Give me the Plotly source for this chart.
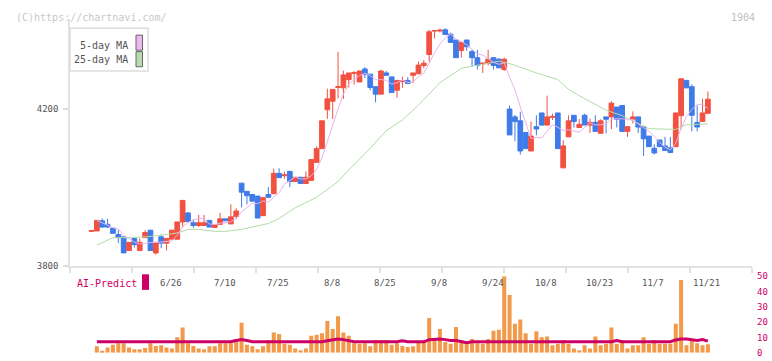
import plotly.graph_objects as go
import pandas as pd

# ---------------- data ----------------
opens = [3888, 3889, 3915, 3906, 3896, 3880, 3874, 3839, 3870, 3839,
         3872, 3891, 3833, 3874, 3858, 3868, 3868, 3912, 3935, 3910,
         3903, 3903, 3916, 3898, 3906, 3920, 3907, 3926, 4011, 3990,
         3982, 3978, 3928, 3982, 3984, 4036, 4030, 4041, 4015, 4026,
         4010, 4018, 4064, 4099, 4198, 4220, 4255, 4254, 4275, 4291,
         4269, 4302, 4289, 4257, 4238, 4292, 4282, 4248, 4270, 4273,
         4286, 4290, 4311, 4339, 4399, 4399, 4402, 4391, 4376, 4349,
         4376, 4347, 4331, 4315, 4316, 4331, 4327, 4301, 4200, 4180,
         4170, 4140, 4093, 4155, 4190, 4159, 4179, 4190, 4050, 4129,
         4184, 4153, 4184, 4159, 4166, 4138, 4180, 4180, 4205, 4209,
         4143, 4174, 4180, 4155, 4131, 4100, 4121, 4106, 4101, 4104,
         4183, 4273, 4257, 4166, 4168, 4189]
highs = [3890, 3917, 3921, 3920, 3896, 3891, 3874, 3860, 3870, 3870,
         3891, 3891, 3860, 3880, 3870, 3891, 3912, 3967, 3937, 3918,
         3930, 3930, 3916, 3905, 3935, 3920, 3957, 3947, 4011, 3990,
         3982, 3978, 3974, 4001, 4048, 4049, 4040, 4041, 4026, 4026,
         4041, 4071, 4105, 4170, 4252, 4250, 4346, 4298, 4292, 4297,
         4297, 4307, 4289, 4257, 4300, 4297, 4282, 4273, 4283, 4281,
         4292, 4321, 4325, 4402, 4401, 4405, 4406, 4395, 4376, 4370,
         4376, 4351, 4351, 4318, 4351, 4331, 4330, 4331, 4209, 4185,
         4193, 4140, 4168, 4184, 4190, 4234, 4188, 4190, 4121, 4184,
         4184, 4174, 4188, 4176, 4184, 4174, 4180, 4220, 4205, 4209,
         4155, 4194, 4180, 4155, 4131, 4110, 4121, 4129, 4129, 4190,
         4277, 4273, 4263, 4209, 4226, 4245]
lows = [3888, 3889, 3897, 3897, 3883, 3858, 3833, 3839, 3847, 3839,
        3872, 3838, 3829, 3845, 3839, 3868, 3868, 3899, 3913, 3897,
        3899, 3903, 3899, 3897, 3906, 3915, 3907, 3920, 3949, 3957,
        3965, 3922, 3928, 3974, 3984, 4025, 4022, 4001, 4015, 4010,
        4010, 4018, 4064, 4099, 4175, 4175, 4227, 4226, 4255, 4262,
        4269, 4279, 4248, 4217, 4238, 4286, 4242, 4229, 4254, 4265,
        4267, 4290, 4304, 4321, 4380, 4395, 4390, 4370, 4331, 4331,
        4349, 4308, 4301, 4292, 4311, 4301, 4305, 4297, 4134, 4118,
        4084, 4099, 4093, 4133, 4159, 4159, 4172, 4099, 4050, 4129,
        4153, 4153, 4159, 4139, 4143, 4138, 4138, 4149, 4153, 4143,
        4129, 4163, 4139, 4080, 4104, 4084, 4104, 4094, 4089, 4104,
        4149, 4254, 4143, 4143, 4168, 4189]
closes = [3890, 3916, 3899, 3899, 3883, 3872, 3833, 3860, 3854, 3860,
          3885, 3839, 3860, 3858, 3870, 3891, 3912, 3967, 3913, 3903,
          3910, 3910, 3899, 3905, 3920, 3915, 3925, 3940, 3988, 3979,
          3965, 3922, 3974, 3975, 4036, 4025, 4032, 4015, 4026, 4010,
          4026, 4071, 4099, 4170, 4226, 4250, 4257, 4287, 4292, 4293,
          4297, 4289, 4255, 4238, 4297, 4286, 4242, 4273, 4272, 4265,
          4292, 4312, 4317, 4397, 4400, 4401, 4390, 4370, 4331, 4370,
          4359, 4331, 4311, 4317, 4327, 4311, 4305, 4327, 4134, 4168,
          4093, 4099, 4131, 4149, 4159, 4180, 4181, 4099, 4106, 4170,
          4168, 4161, 4159, 4166, 4143, 4170, 4174, 4215, 4174, 4143,
          4155, 4180, 4154, 4124, 4104, 4088, 4104, 4094, 4089, 4190,
          4277, 4254, 4184, 4154, 4190, 4225]
candle_idx = list(range(len(closes)))

# volume panel (starts at candle 1)
vol_idx = list(range(1, 116))
volumes = [4.3, 1.3, 3.4, 5.3, 6.3, 6.3, 3.4, 2.3, 2.3, 3.2,
           6.3, 4.4, 4.9, 3.4, 2.8, 10.2, 16.5, 6.3, 4.4, 2.8,
           2.3, 4.2, 4.2, 6.3, 6.3, 6.3, 9.0, 19.7, 5.3, 4.2,
           2.3, 4.2, 8.4, 13.3, 12.3, 5.9, 5.3, 2.8, 1.7, 2.8,
           11.2, 11.8, 12.7, 20.7, 15.5, 23.9, 13.3, 11.2, 6.3, 5.9,
           6.3, 4.2, 8.4, 8.4, 8.4, 5.3, 6.3, 4.5, 3.8, 4.2,
           7.0, 8.0, 22.8, 9.0, 15.5, 7.0, 5.9, 16.9, 8.0, 5.9,
           9.0, 6.3, 5.9, 9.0, 14.4, 15.1, 50.0, 37.7, 19.0, 21.8,
           12.7, 5.9, 14.0, 10.2, 10.6, 4.9, 5.9, 8.4, 5.9, 2.8,
           1.7, 4.9, 2.8, 10.6, 4.9, 5.9, 16.5, 5.9, 8.4, 2.8,
           4.9, 4.9, 10.2, 5.9, 8.4, 5.9, 5.9, 5.9, 19.0, 47.6,
           4.9, 9.0, 6.3, 4.9, 5.5]
ai_predict = [7.2, 7.2, 7.2, 7.2, 7.2, 7.2, 7.2, 7.2, 7.2, 7.2,
              7.2, 7.2, 7.2, 7.2, 7.2, 7.2, 7.2, 7.2, 7.2, 7.2,
              7.2, 7.2, 7.2, 7.2, 7.2, 7.2, 8.0, 8.6, 8.0, 7.2,
              7.2, 7.2, 7.2, 7.2, 7.2, 7.2, 7.2, 7.2, 7.2, 7.2,
              7.2, 7.2, 7.2, 7.8, 8.2, 9.0, 8.6, 8.0, 7.2, 7.2,
              7.2, 7.2, 7.2, 7.2, 7.2, 7.2, 7.2, 7.8, 7.2, 7.2,
              7.2, 7.2, 8.6, 9.0, 9.0, 8.6, 8.0, 8.0, 7.4, 6.6,
              7.2, 7.2, 7.2, 7.2, 7.2, 7.2, 7.2, 7.2, 7.2, 7.2,
              7.2, 7.2, 7.2, 7.2, 7.2, 7.2, 7.2, 7.2, 7.2, 7.2,
              7.2, 7.2, 7.2, 7.2, 7.2, 7.2, 7.2, 8.0, 7.2, 7.2,
              7.2, 7.2, 7.2, 7.2, 7.2, 7.2, 7.2, 7.2, 8.4, 9.0,
              9.0, 8.4, 8.0, 8.6, 7.6]

# moving averages
ma5_head = [None, 3916, 3910, 3904]          # first values
ma25_idx = [1, 4, 7, 10, 13, 16, 18, 20, 23, 25, 28, 30, 33, 35, 38, 42, 46, 48,
            52, 55, 58, 61, 65, 69, 72, 76, 78, 83, 87, 89, 91, 94, 96, 99, 102,
            104, 109, 111, 115]
ma25_vals = [3853, 3872, 3872, 3874, 3878, 3884, 3893, 3893, 3888, 3888, 3893,
             3899, 3908, 3921, 3948, 3975, 4015, 4045, 4100, 4145, 4172, 4210,
             4267, 4304, 4312, 4322, 4316, 4292, 4275, 4250, 4234, 4213, 4197,
             4183, 4163, 4150, 4148, 4160, 4162]

date_labels = ["6/26", "7/10", "7/25", "8/8", "8/25", "9/8", "9/24",
               "10/8", "10/23", "11/7", "11/21"]
date_label_idx = [15, 25, 35, 45, 55, 65, 75, 85, 95, 105, 115]

price_ticks = [3800, 4200]
vol_ticks = [0, 10, 20, 30, 40, 50]

# ---------------- styling / layout constants ----------------
W, H = 772, 361
MONO = "DejaVu Sans Mono"
RED = "#f25140"
BLUE = "#3f7be8"
ORANGE = "#f2994a"
MAGENTA = "#cc0066"
GRID = "#e2e2e2"

X0_PX, STEP_PX = 91.5, 5.36            # pixel of candle 0 and candle spacing
PLOT_L, PLOT_R = 70, 752
MAIN_TOP, MAIN_BOT = 14, 268.3
PX_PER_100 = 161.3 / 400 * 100
VOL_BOT, VOL_TOP = 357.7, 279


def fx(px):
    return px / W


def fy(py):
    return 1 - py / H


x_lo = (PLOT_L - X0_PX) / STEP_PX
x_hi = (PLOT_R - X0_PX) / STEP_PX
y_lo = price_ticks[0]
y_hi = y_lo + (MAIN_BOT - MAIN_TOP) / PX_PER_100 * 100
grid_ticks = [x_lo + k * (x_hi - x_lo) / 11 for k in range(12)]

ma5 = ma5_head + list(pd.Series(closes).rolling(5).mean().iloc[4:].round(1))

fig = go.Figure()

fig.add_trace(go.Scatter(x=ma25_idx, y=ma25_vals, mode="lines",
                         line=dict(color="#b2dca8", width=1),
                         hoverinfo="skip", showlegend=False))
fig.add_trace(go.Scatter(x=candle_idx, y=ma5, mode="lines",
                         line=dict(color="#e8b2ea", width=1),
                         hoverinfo="skip", showlegend=False))
fig.add_trace(go.Candlestick(
    x=candle_idx, open=opens, high=highs, low=lows, close=closes,
    increasing=dict(line=dict(color=RED, width=1), fillcolor=RED),
    decreasing=dict(line=dict(color=BLUE, width=1), fillcolor=BLUE),
    whiskerwidth=0, showlegend=False, hoverinfo="skip"))

fig.add_trace(go.Bar(x=vol_idx, y=volumes, width=0.75, marker_color=ORANGE,
                     marker_line_width=0, xaxis="x2", yaxis="y2",
                     hoverinfo="skip", showlegend=False))
fig.add_trace(go.Scatter(x=vol_idx, y=ai_predict, mode="lines",
                         line=dict(color=MAGENTA, width=3),
                         xaxis="x2", yaxis="y2",
                         hoverinfo="skip", showlegend=False))

annotations = []
for lab, i in zip(date_labels, date_label_idx):
    annotations.append(dict(x=i, y=fy(286), xref="x", yref="paper", text=lab,
                            showarrow=False, xanchor="center", yanchor="middle",
                            xshift=-1, font=dict(family=MONO, size=9, color="#555")))
annotations += [
    dict(x=fx(14), y=fy(12.5), xref="paper", yref="paper",
         text="(C)https://chartnavi.com/", showarrow=False,
         xanchor="left", yanchor="middle",
         font=dict(family=MONO, size=10, color="#c8c8c8")),
    dict(x=fx(757), y=fy(12.5), xref="paper", yref="paper", text="1904",
         showarrow=False, xanchor="right", yanchor="middle",
         font=dict(family=MONO, size=10, color="#c0c0c0")),
    dict(x=fx(130), y=fy(41.5), xref="paper", yref="paper", text="5-day MA",
         showarrow=False, xanchor="right", yanchor="middle",
         font=dict(family=MONO, size=10, color="#555")),
    dict(x=fx(130), y=fy(56.5), xref="paper", yref="paper", text="25-day MA",
         showarrow=False, xanchor="right", yanchor="middle",
         font=dict(family=MONO, size=10, color="#555")),
    dict(x=fx(75), y=fy(286), xref="paper", yref="paper", text="AI-Predict",
         showarrow=False, xanchor="left", yanchor="middle",
         font=dict(family=MONO, size=10, color=MAGENTA)),
]

shapes = [
    dict(type="rect", xref="paper", yref="paper", x0=fx(70), x1=fx(148),
         y0=fy(68), y1=fy(24), line=dict(color="#dddddd", width=1.5),
         fillcolor="white", layer="above"),
    dict(type="rect", xref="paper", yref="paper", x0=fx(136), x1=fx(142.5),
         y0=fy(46.5), y1=fy(31), line=dict(color="#666666", width=1),
         fillcolor="#ecb8ee", layer="above"),
    dict(type="rect", xref="paper", yref="paper", x0=fx(136), x1=fx(142.5),
         y0=fy(63.5), y1=fy(48), line=dict(color="#666666", width=1),
         fillcolor="#b8dcb0", layer="above"),
    dict(type="rect", xref="paper", yref="paper", x0=fx(142), x1=fx(149),
         y0=fy(293), y1=fy(277), line=dict(width=0), fillcolor=MAGENTA),
]

fig.update_layout(
    width=W, height=H,
    margin=dict(l=0, r=0, t=0, b=0),
    paper_bgcolor="white", plot_bgcolor="white",
    boxgap=0.12, boxgroupgap=0,
    showlegend=False,
    xaxis=dict(domain=[fx(PLOT_L), fx(PLOT_R)], range=[x_lo, x_hi], anchor="y",
               showline=True, linecolor=GRID, linewidth=2,
               tickvals=grid_ticks, ticks="outside", ticklen=5,
               tickcolor=GRID, tickwidth=1.5, showticklabels=False,
               showgrid=False, zeroline=False, rangeslider=dict(visible=False),
               fixedrange=True),
    yaxis=dict(domain=[fy(MAIN_BOT), fy(MAIN_TOP)], range=[y_lo, y_hi],
               anchor="x", showline=True, linecolor=GRID, linewidth=1.5,
               tickvals=price_ticks, ticktext=[str(v) for v in price_ticks],
               ticks="outside", ticklen=5, tickcolor="#dddddd", tickwidth=1.5,
               ticklabelstandoff=3,
               tickfont=dict(family=MONO, size=9, color="#555"),
               showgrid=False, zeroline=False, fixedrange=True),
    xaxis2=dict(domain=[fx(PLOT_L), fx(PLOT_R)], range=[x_lo, x_hi],
                anchor="y2", visible=False, fixedrange=True),
    yaxis2=dict(domain=[fy(VOL_BOT), fy(VOL_TOP)], range=[0, 50], anchor="x2",
                side="right", tickvals=vol_ticks, ticks="", showline=False,
                showgrid=False, zeroline=False, ticklabelstandoff=4,
                tickfont=dict(family=MONO, size=9, color=MAGENTA),
                fixedrange=True),
    annotations=annotations,
    shapes=shapes,
)

fig.write_html(
    "out.html",
    config=dict(displayModeBar=False),
    post_script="document.body.style.margin='0';document.body.style.padding='0';"
                "document.documentElement.style.overflow='hidden';",
)
